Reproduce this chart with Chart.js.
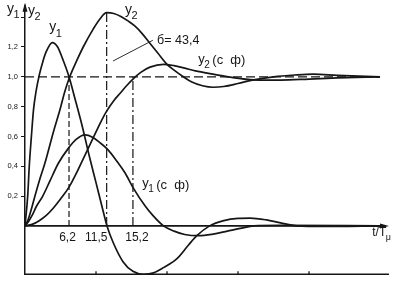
<!DOCTYPE html>
<html>
<head>
<meta charset="utf-8">
<script src="https://cdn.jsdelivr.net/npm/chart.js@4.4.1/dist/chart.umd.min.js"></script>
<style>
  html, body { margin: 0; padding: 0; background: #fff; }
  canvas { display: block; }
</style>
</head>
<body>
<canvas id="chart" width="395" height="281"></canvas>
<script>
// step responses, time in units of T_mu
var y1T   = [0, 0.38, 0.6, 0.9, 1.2, 1.55, 2, 2.5, 3, 3.85, 4.6, 5.3, 6.2, 7, 8, 9.15, 10, 11, 11.55, 12.4, 13.8, 15.2, 16.7, 18.1, 19.5, 21.4, 23, 24.2, 26, 28, 30, 31.7, 34, 36, 38.3, 42, 50];
var y1Val = [0, 0.2, 0.4, 0.6, 0.78, 0.9, 1.01, 1.1, 1.17, 1.23, 1.2, 1.12, 1.0, 0.86, 0.68, 0.45, 0.29, 0.1, 0, -0.11, -0.24, -0.305, -0.325, -0.315, -0.28, -0.22, -0.13, -0.066, 0, 0.035, 0.05, 0.052, 0.04, 0.02, 0, -0.004, 0];

var y2T   = [0, 0.5, 1, 1.4, 2, 2.8, 4, 4.9, 5.6, 6.3, 7.3, 8.2, 9.6, 10.5, 11.5, 12.5, 13.5, 14.5, 15.5, 16.5, 17.5, 18.7, 20, 21, 22.3, 23.5, 25, 26.5, 28, 30, 32.2, 35, 38, 40.6, 44, 50];
var y2Val = [0, 0.05, 0.13, 0.2, 0.3, 0.42, 0.63, 0.775, 0.9, 1.0, 1.11, 1.2, 1.32, 1.385, 1.43, 1.425, 1.405, 1.375, 1.34, 1.29, 1.23, 1.16, 1.084, 1.045, 1.0, 0.965, 0.94, 0.93, 0.935, 0.955, 0.98, 1.0, 1.012, 1.018, 1.01, 1.0];

// with filter (с ф)
var y1fT   = [0, 0.5, 1, 1.6, 2.5, 3.5, 4.7, 6.1, 7.2, 8.45, 9.5, 10.5, 11.7, 13, 14.1, 15.3, 16.9, 18, 19.5, 21, 22.5, 24.5, 26.5, 28.5, 30.5, 32.2, 36, 50];
var y1fVal = [0, 0.03, 0.07, 0.13, 0.2, 0.3, 0.42, 0.52, 0.58, 0.61, 0.595, 0.56, 0.51, 0.43, 0.355, 0.25, 0.135, 0.07, 0, -0.035, -0.058, -0.066, -0.055, -0.035, -0.015, 0, 0.003, 0];

var y2fT   = [0, 1, 2, 3, 4, 5, 6.2, 7.2, 8.2, 9.6, 10.6, 11.5, 12.5, 13.4, 14.3, 15.2, 16.3, 17.6, 19.5, 21, 22.5, 24, 26.5, 29.3, 32.2, 36, 40, 44, 50];
var y2fVal = [0, 0.01, 0.035, 0.07, 0.12, 0.18, 0.26, 0.35, 0.45, 0.59, 0.69, 0.77, 0.84, 0.89, 0.94, 0.985, 1.03, 1.065, 1.084, 1.075, 1.058, 1.04, 1.018, 0.995, 0.98, 0.978, 0.985, 0.993, 1.0];

var yTickVals   = [0.2, 0.4, 0.6, 0.8, 1.0, 1.2, 1.4];
var yTickLabels = ['0,2', '0,4', '0,6', '0,8', '1,0', '1,2', ''];
var bottomTicks = [10, 20, 30, 40];
var markT      = [6.2, 11.5, 15.2];
var markTop    = [1.0, 1.43, 1.0];
var markLabels = ['6,2', '11,5', '15,2'];

var ink = '#161616';
var face = '"Liberation Sans", Arial, sans-serif';

function pts(ts, vs) {
  var out = [];
  for (var i = 0; i < ts.length; i++) out.push({ x: ts[i], y: vs[i] });
  return out;
}

function curve(ts, vs) {
  return {
    data: pts(ts, vs),
    borderColor: ink,
    borderWidth: 1.7,
    pointRadius: 0,
    fill: false,
    cubicInterpolationMode: 'monotone'
  };
}

function seg(ctx, x1, y1, x2, y2) {
  ctx.beginPath();
  ctx.moveTo(x1, y1);
  ctx.lineTo(x2, y2);
  ctx.stroke();
}

// "y" + subscript + rest
function subText(ctx, px, py, main, sub, rest, size) {
  ctx.font = size + 'px ' + face;
  ctx.fillText(main, px, py);
  var w = ctx.measureText(main).width;
  ctx.font = Math.round(size * 0.75) + 'px ' + face;
  ctx.fillText(sub, px + w - 0.5, py + size * 0.38);
  var w2 = ctx.measureText(sub).width;
  if (rest) {
    ctx.font = size + 'px ' + face;
    ctx.fillText(rest, px + w + w2 + 2, py + 1.5);
  }
}

var figure = {
  id: 'figure',
  beforeDatasetsDraw: function(chart) {
    var ctx = chart.ctx, sx = chart.scales.x, sy = chart.scales.y, a = chart.chartArea;
    var X = function(t) { return sx.getPixelForValue(t); };
    var Y = function(v) { return sy.getPixelForValue(v); };
    ctx.save();
    ctx.strokeStyle = ink;
    ctx.fillStyle = ink;

    // level 1.0
    ctx.lineWidth = 1.2;
    ctx.setLineDash([9, 4]);
    seg(ctx, X(0), Y(1), X(50), Y(1));

    // vertical marks
    var dash = [[6, 3], [9, 3, 2, 3], [9, 3, 2, 3]];
    for (var i = 0; i < markT.length; i++) {
      ctx.setLineDash(dash[i]);
      seg(ctx, X(markT[i]), Y(0), X(markT[i]), Y(markTop[i]));
    }
    ctx.setLineDash([]);

    // x axis through zero, with arrow
    var y0 = Y(0), xEnd = a.right + 4;
    ctx.lineWidth = 1.6;
    seg(ctx, a.left, y0, xEnd - 4, y0);
    ctx.beginPath();
    ctx.moveTo(xEnd, y0);
    ctx.lineTo(xEnd - 9, y0 - 2.5);
    ctx.lineTo(xEnd - 9, y0 + 2.5);
    ctx.closePath();
    ctx.fill();

    // bottom line with ticks
    ctx.lineWidth = 1.3;
    seg(ctx, a.left, a.bottom, xEnd, a.bottom);
    for (var j = 0; j < bottomTicks.length; j++) {
      seg(ctx, X(bottomTicks[j]), a.bottom, X(bottomTicks[j]), a.bottom - 3);
    }

    // y axis arrow
    ctx.lineWidth = 1.5;
    seg(ctx, a.left, a.top, a.left, a.top - 2);
    ctx.beginPath();
    ctx.moveTo(a.left, a.top - 4);
    ctx.lineTo(a.left - 2.5, a.top + 5);
    ctx.lineTo(a.left + 2.5, a.top + 5);
    ctx.closePath();
    ctx.fill();

    // overshoot leader
    ctx.lineWidth = 0.9;
    seg(ctx, X(12.4), Y(1.106), X(18.0), Y(1.245));

    // texts
    ctx.textBaseline = 'alphabetic';
    ctx.textAlign = 'left';
    subText(ctx, a.left - 18, a.top + 6, 'y', '1', '', 14);
    subText(ctx, a.left + 3, a.top + 8, 'y', '2', '', 14);
    subText(ctx, X(3.4), Y(1.305), 'y', '1', '', 14);
    subText(ctx, X(14.1), Y(1.424), 'y', '2', '', 14);
    subText(ctx, X(24.4), Y(1.093), 'y', '2', '(с  ф)', 13);
    subText(ctx, X(16.5), Y(0.258), 'y', '1', '(с  ф)', 13);
    ctx.font = '12.5px ' + face;
    ctx.fillText('б= 43,4', X(18.6), Y(1.219));
    subText(ctx, X(48.9), Y(-0.066), 't/T', 'μ', '', 12);

    ctx.font = '12px ' + face;
    ctx.textAlign = 'center';
    var shift = [-1.5, -10.5, 4];
    for (var k = 0; k < markT.length; k++) {
      ctx.fillText(markLabels[k], X(markT[k]) + shift[k], Y(-0.1));
    }
    ctx.restore();
  }
};

new Chart(document.getElementById('chart'), {
  type: 'line',
  data: {
    datasets: [curve(y1T, y1Val), curve(y2T, y2Val), curve(y1fT, y1fVal), curve(y2fT, y2fVal)]
  },
  options: {
    responsive: false,
    animation: false,
    events: [],
    layout: { padding: { left: 0, right: 10, top: 5, bottom: 5 } },
    plugins: { legend: { display: false }, tooltip: { enabled: false } },
    scales: {
      x: { type: 'linear', min: 0, max: 50.7, display: false },
      y: {
        type: 'linear',
        min: -0.3245,
        max: 1.47,
        afterFit: function(s) { s.width = 25; },
        afterBuildTicks: function(s) {
          s.ticks = yTickVals.map(function(v) { return { value: v }; });
        },
        ticks: {
          color: ink,
          padding: 3,
          font: { size: 7.5, family: face, lineHeight: 1 },
          callback: function(v) {
            var i = yTickVals.indexOf(v);
            return i < 0 ? '' : yTickLabels[i];
          }
        },
        grid: { drawOnChartArea: false, drawTicks: true, tickLength: 4, color: ink, lineWidth: 1 },
        border: { display: true, color: ink, width: 1.5 }
      }
    }
  },
  plugins: [figure]
});
</script>
</body>
</html>
